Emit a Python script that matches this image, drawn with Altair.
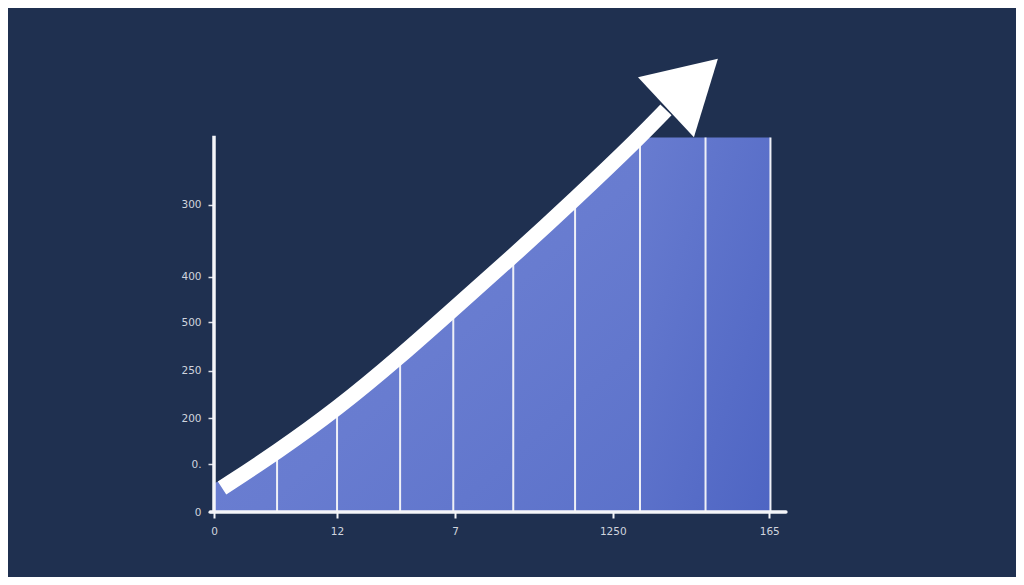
import altair as alt
import pandas as pd

# ---- data ----
# top of the filled region (it runs along the arrow's centre line, hidden under the shaft)
area_x = [0.0, 1.02, 1.99, 3.01, 3.87, 4.84, 5.84, 6.89]
area_y = [7.6, 16.0, 27.5, 41.5, 54.2, 68.4, 83.6, 100.2]
flat_x = [6.89, 9.0]
flat_y = 100.0

divider_x = [1.02, 1.99, 3.01, 3.87, 4.84, 5.84, 6.89, 7.95, 9.0]
divider_top = [16.0, 27.5, 41.5, 54.2, 68.4, 83.6, 100.0, 100.0, 100.0]

arrow_x = [0.13, 1.02, 1.99, 3.01, 3.87, 4.84, 5.84, 6.89, 7.31]
arrow_y = [6.4, 16.0, 27.5, 41.5, 54.2, 68.4, 83.6, 100.2, 107.4]
head_x = [7.73]
head_y = [114.6]

y_tick_values = [0, 12.8, 25.1, 37.7, 50.7, 62.8, 82.0]
y_tick_labels = ["0", "0.", "200", "250", "500", "400", "300"]
x_tick_values = [0, 1.99, 3.9, 6.45, 8.98]
x_tick_labels = ["0", "12", "7", "1250", "165"]

BG = "#1f3050"
WHITE = "#f4f5f9"
FONT = "DejaVu Sans"


def label_expr(values, labels):
    expr = "''"
    for v, l in reversed(list(zip(values, labels))):
        expr = f"datum.value == {v} ? '{l}' : ({expr})"
    return expr


xscale = alt.Scale(domain=[0, 9.3], nice=False, zero=False)
yscale = alt.Scale(domain=[0, 125], nice=False, zero=False)

x_axis = alt.Axis(
    values=x_tick_values, labelExpr=label_expr(x_tick_values, x_tick_labels),
    domain=False, grid=False, ticks=True, tickColor=WHITE, tickWidth=2, tickSize=6,
    labelColor="#d0d4de", labelFont=FONT, labelFontSize=10.5, labelPadding=8,
    labelAngle=0, title=None, labelFlush=False, labelOverlap=False,
)
y_axis = alt.Axis(
    values=y_tick_values, labelExpr=label_expr(y_tick_values, y_tick_labels),
    domain=False, grid=False, ticks=True, tickColor="#dfe2ea", tickWidth=1.5, tickSize=6,
    labelColor="#d0d4de", labelFont=FONT, labelFontSize=10.5, labelPadding=7,
    title=None, labelOverlap=False,
)


def X(field):
    return alt.X(field, type="quantitative", scale=xscale, axis=x_axis)


def Y(field):
    return alt.Y(field, type="quantitative", scale=yscale, axis=y_axis)


area_df = pd.DataFrame({"x": area_x, "y": area_y, "base": 0.0})
flat_df = pd.DataFrame({"x": [flat_x[0]], "x2": [flat_x[1]], "y": [flat_y], "base": [0.0]})
div_df = pd.DataFrame({"x": divider_x, "top": divider_top, "base": 0.0})
arrow_df = pd.DataFrame({"x": arrow_x, "y": arrow_y, "o": list(range(len(arrow_x)))})
head_df = pd.DataFrame({"x": head_x, "y": head_y})
yline_df = pd.DataFrame({"x": [0.0], "y": [0.0], "y2": [100.5]})
xline_df = pd.DataFrame({"x": [-0.06], "x2": [9.25], "y": [0.0]})

area_grad = alt.Gradient(
    gradient="linear", x1=0, y1=0, x2=1, y2=1,
    stops=[alt.GradientStop(offset=0, color="#6f83d2"),
           alt.GradientStop(offset=0.55, color="#687cd0"),
           alt.GradientStop(offset=1, color="#5c72ca")],
)
rect_grad = alt.Gradient(
    gradient="linear", x1=0, y1=0, x2=1, y2=1,
    stops=[alt.GradientStop(offset=0, color="#687cd0"),
           alt.GradientStop(offset=1, color="#4e65c3")],
)

area = alt.Chart(area_df).mark_area(interpolate="basis", fill=area_grad).encode(
    x=X("x"), y=Y("y"), y2="base:Q",
)

flat = alt.Chart(flat_df).mark_rect(fill=rect_grad).encode(
    x=X("x"), x2="x2:Q", y=Y("y"), y2="base:Q",
)

dividers = alt.Chart(div_df).mark_rule(color="#eef0f7", strokeWidth=2).encode(
    x=X("x"), y=Y("top"), y2="base:Q",
)

y_line = alt.Chart(yline_df).mark_rule(color=WHITE, strokeWidth=3.5).encode(
    x=X("x"), y=Y("y"), y2="y2:Q",
)
x_line = alt.Chart(xline_df).mark_rule(color=WHITE, strokeWidth=3.5, strokeCap="round").encode(
    x=X("x"), x2="x2:Q", y=Y("y"),
)

shaft = alt.Chart(arrow_df).mark_line(
    color="#ffffff", strokeWidth=15.5, interpolate="basis", strokeCap="butt"
).encode(
    x=X("x"), y=Y("y"), order="o:Q",
)

head = alt.Chart(head_df).mark_point(
    shape="triangle-up", size=6724, angle=47, filled=True, fill="#ffffff",
    opacity=1, strokeWidth=0,
).encode(
    x=X("x"), y=Y("y"),
)

chart = alt.layer(area, flat, dividers, y_line, x_line, shaft, head).properties(
    width=575, height=468,
    autosize=alt.AutoSizeParams(type="none"),
    padding={"left": 206, "top": 36, "right": 227, "bottom": 65},
    background=BG,
).configure_view(stroke=None)

chart.save("out.html", embed_options={"renderer": "svg", "actions": False})
